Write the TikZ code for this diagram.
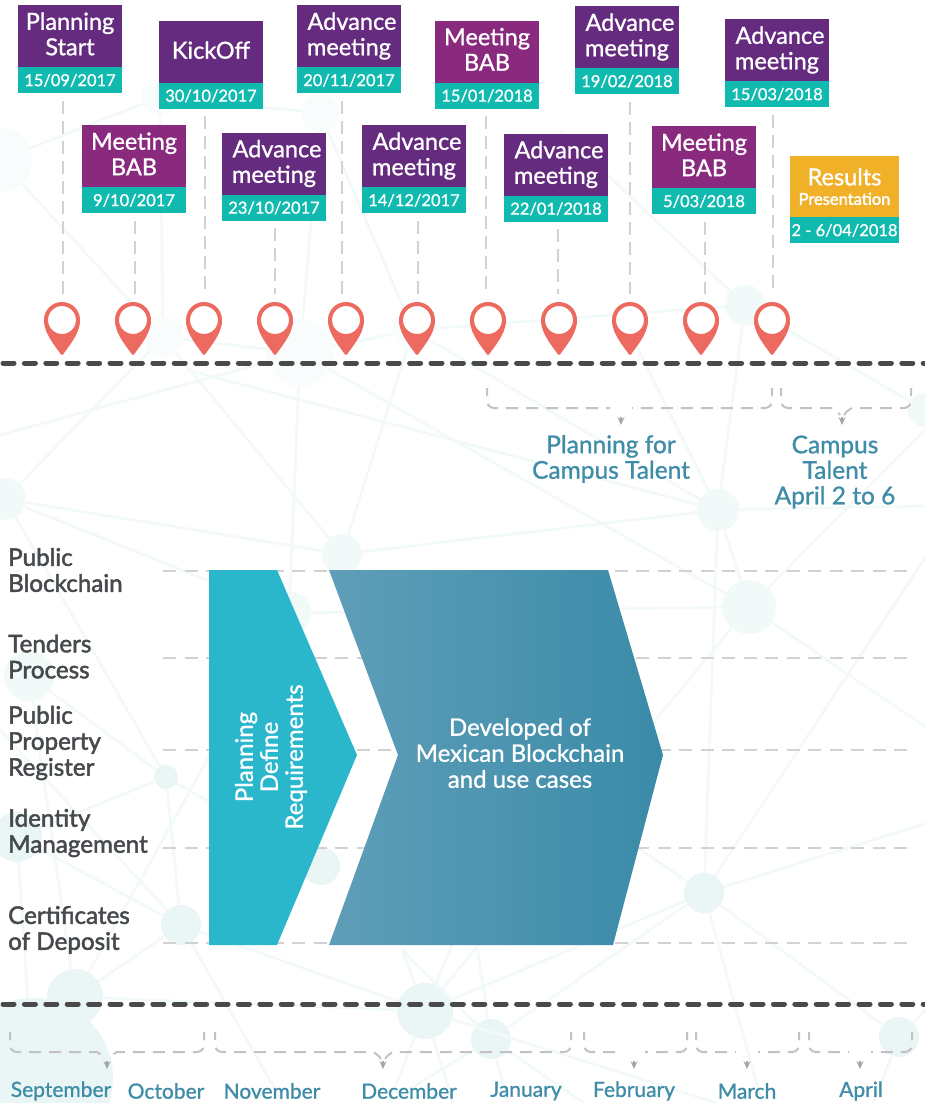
\documentclass[tikz,border=0pt]{standalone}
\usepackage{fontspec}
\setmainfont{Lato}[RawFeature={embolden=1.0}]
\newfontfamily\rowfont{Lato}[RawFeature={embolden=2.0}]
\usetikzlibrary{arrows.meta,positioning}
\definecolor{planpurple}{HTML}{652B7F}
\definecolor{babmagenta}{HTML}{8A2A7E}
\definecolor{dateteal}{HTML}{10BAAF}
\definecolor{resultgold}{HTML}{F0B028}
\definecolor{pinred}{HTML}{EC6A5F}
\definecolor{axisgrey}{HTML}{4A4A4A}
\definecolor{rowgrey}{HTML}{D2D2D2}
\definecolor{bracegrey}{HTML}{C2C2C2}
\definecolor{labelblue}{HTML}{3F8CA8}
\definecolor{labelgrey}{HTML}{474A4D}
\definecolor{netfaint}{HTML}{F8FCFC}
\definecolor{netpale}{HTML}{F2F9F9}
\definecolor{netdeep}{HTML}{EAF5F5}
\tikzset{
    cardtitle/.style={fill=#1,text=white,minimum width=104pt,minimum height=62pt,inner sep=0pt,align=center,font=\fontsize{23.5}{25.5}\selectfont},
    carddate/.style={fill=dateteal,text=white,minimum width=104pt,minimum height=26pt,inner sep=0pt,font=\fontsize{16.5}{18}\selectfont},
    stemline/.style={rowgrey,line width=2.5pt,dash pattern=on 13pt off 7pt},
    pinhead/.style={circle,draw=pinred,fill=white,line width=4pt,minimum size=32pt,inner sep=0pt},
    axisline/.style={axisgrey,line width=5pt,line cap=round,dash pattern=on 11pt off 10.4pt},
    rowline/.style={rowgrey,line width=2.5pt,dash pattern=on 13pt off 8.5pt},
    braceline/.style={bracegrey,line width=2pt,rounded corners=7pt,dash pattern=on 12pt off 8pt,dash phase=4pt},
    bracetip/.style={bracegrey!85!black,line width=1.5pt,-{Stealth[length=8pt,width=7pt,inset=3pt]}},
    rowlabel/.style={labelgrey,anchor=west,align=left,inner sep=0pt,font=\rowfont\fontsize{24.2}{26}\selectfont},
    bluelabel/.style={labelblue,align=center,inner sep=0pt,font=\fontsize{24.5}{25.5}\selectfont},
    monthlabel/.style={labelblue,inner sep=0pt,font=\fontsize{21}{22}\selectfont},
    netdot/.style={circle,fill=#1,inner sep=0pt},
    netlink/.style={netpale,line width=2.5pt}
}
\newcommand{\gapbrace}[5]{
    \draw[braceline] (#1,#4)--(#1,#5)--({#3-11},#5);
    \draw[braceline] (#2,#4)--(#2,#5)--({#3+11},#5);
    \draw[bracetip] (#3,{#5+9})--(#3,{#5+17});
}
\newcommand{\curlbrace}[5]{
    \draw[braceline] (#1,#4)--(#1,#5)--({#3-17},#5) .. controls ({#3-10},#5) and ({#3-4},{#5+3}) .. ({#3-2},{#5+7});
    \draw[braceline] (#2,#4)--(#2,#5)--({#3+17},#5) .. controls ({#3+10},#5) and ({#3+4},{#5+3}) .. ({#3+2},{#5+7});
    \draw[bracetip] (#3,{#5+9})--(#3,{#5+17});
}
\newcommand{\advancetxt}{\hspace*{6pt}Advance\\meeting}
\newcommand{\babtxt}{Meeting\\BAB\vphantom{g}}
\begin{document}
\begin{tikzpicture}[x=1pt,y=-1pt]
    \useasboundingbox (0,0) rectangle (925,1103);
    \fill[white] (0,0) rectangle (925,1103);
    \clip (0,0) rectangle (925,1103);
    \foreach \n/\x/\y/\d/\c in {a/0/160/64/netfaint,b/160/97/36/netfaint,c/320/113/38/netfaint,d/163/337/40/netfaint,
        e/300/353/66/netfaint,f/413/330/40/netfaint,g/745/305/40/netpale,h/925/410/34/netpale,i/5/499/42/netpale,
        j/342/554/40/netpale,k/718/510/42/netpale,l/749/607/54/netpale,m/29/676/50/netpale,n/289/613/44/netpale,
        o/166/777/24/netdeep,p/321/866/38/netdeep,q/704/893/40/netdeep,r/181/925/40/netdeep,s/17/837/50/netdeep,
        t/75/997/56/netdeep,u/425/1011/56/netdeep,v/491/1039/40/netdeep,w/33/1078/160/netdeep,x/899/1037/40/netdeep}
        \node[netdot=\c,minimum size=\d pt] (net\n) at (\x,\y) {};
    \foreach \n/\x/\y in {A/187/370,B/0/435,C/930/506,D/930/730,E/930/822,F/930/550,G/930/425,H/762/1103,I/0/730,J/600/1103,
        K/717/1103,L/584/1103,M/508/1103,N/387/1103,O/389/1103,P/453/1103,Q/283/1103,R/873/1103,S/930/1005,T/653/723,
        U/638/848,V/470/900,W/510/905,X/402/950,Y/637/347,Z/560/130}
        \coordinate (net\n) at (\x,\y);
    \foreach \a/\b in {a/b,a/d,b/c,b/d,c/f,c/e,d/e,e/f,f/g,Z/g,g/h,g/k,Y/k,A/k,f/k,i/d,d/j,e/n,f/j,B/e,e/l,i/j,i/n,i/o,j/k,
        k/l,k/C,k/q,l/D,l/G,l/T,l/n,q/F,q/E,q/U,q/H,q/x,q/u,q/v,m/o,m/t,n/t,s/o,o/r,o/p,s/r,I/r,s/w,r/t,r/Q,r/u,t/u,u/X,X/v,
        u/V,V/v,u/W,v/M,v/L,v/N,u/O,u/P,u/K,x/R,x/S}
        \draw[netlink] (net\a) -- (net\b);
    \foreach \i in {1,...,11} {
        \pgfmathsetmacro{\x}{62+71*(\i-1)}
        \fill[pinred] ({\x-18},322) .. controls ({\x-17},335) and ({\x-6},347) .. ({\x-1},354.5)
            -- ({\x+1},354.5) .. controls ({\x+6},347) and ({\x+17},335) .. ({\x+18},322) -- cycle;
        \node[pinhead] (pin\i) at (\x,320) {};
    }
    \foreach \i/\cx/\cy/\tint/\txt/\dt/\ox in {
        1/70/36/planpurple/{Planning\\Start\vphantom{g}}/15\slash 09\slash 2017/-7,
        2/134/156/babmagenta/\babtxt/9\slash 10\slash 2017/1,
        3/211/51.5/planpurple/{\raisebox{3pt}{KickOff}}/30\slash 10\slash 2017/-6,
        4/274/163.5/planpurple/\advancetxt/23\slash 10\slash 2017/1,
        5/349/36/planpurple/\advancetxt/20\slash 11\slash 2017/-7,
        6/414/156/planpurple/\advancetxt/14\slash 12\slash 2017/4,
        7/487/51.5/babmagenta/\babtxt/15\slash 01\slash 2018/-1,
        8/556/164.5/planpurple/\advancetxt/22\slash 01\slash 2018/2,
        9/627/37/planpurple/\advancetxt/19\slash 02\slash 2018/3,
        10/704/157/babmagenta/\babtxt/5\slash 03\slash 2018/1,
        11/777/50/planpurple/\advancetxt/15\slash 03\slash 2018/-4} {
        \node[cardtitle=\tint] (card\i) at (\cx,\cy) {\txt};
        \node[carddate,below=0pt of card\i] (date\i) {\dt};
        \coordinate (stem\i) at ([xshift=\ox pt,yshift=-7pt]date\i.south);
        \draw[stemline,shorten >=8pt] (stem\i) -- (stem\i |- pin\i.north);
    }
    \node[cardtitle=resultgold,minimum width=109pt,minimum height=61pt] (card12) at (844.5,186.5)
        {Results\\[-6pt]{\rowfont\fontsize{16.5}{18}\selectfont Presentation}};
    \node[carddate,minimum width=109pt,below=0pt of card12] (date12) {2 - 6\slash 04\slash 2018};
    \draw[axisline] (3,363)--(925,363);
    \draw[axisline] (3,1004)--(925,1004);
    \gapbrace{487}{772}{621}{388}{408}
    \curlbrace{781}{911}{842}{388}{408}
    \node[bluelabel] (talentplan) at (611,459) {Planning for\\Campus Talent};
    \node[bluelabel] (talentweek) at (835,472) {Campus\\Talent\\April 2 to 6};
    \foreach \y in {571,658,750,848,943}
        \draw[rowline] (163,\y)--(912,\y);
    \fill[fill={rgb,255:red,42;green,183;blue,204}] (209,570)--(277,570)--(357,755)--(277,945)--(209,945)--cycle;
    \shade[left color={rgb,255:red,95;green,158;blue,184},right color={rgb,255:red,58;green,139;blue,168}]
        (329,570)--(608,570)--(663,755)--(613,945)--(329,945)--(398,755)--cycle;
    \node[white,rotate=90,align=center,inner sep=0pt,font=\fontsize{24}{25}\selectfont] (planblock) at (271,757) {Planning\\Define\\Requirements};
    \node[white,align=center,inner sep=0pt,font=\fontsize{24}{26}\selectfont] (devblock) at (520,753) {Developed of\\Mexican Blockchain\\and use cases};
    \node[rowlabel] (row1) at (8,570) {Public\\Blockchain};
    \node[rowlabel] (row2) at (8,656.5) {Tenders\\Process};
    \node[rowlabel] (row3) at (8,743) {Public\\Property\\Register};
    \node[rowlabel] (row4) at (8,833) {Identity\\Management};
    \node[rowlabel] (row5) at (8,930) {Certificates\\of Deposit};
    \curlbrace{10}{204}{107}{1032}{1052}
    \curlbrace{215}{571}{383}{1032}{1052}
    \gapbrace{584}{687}{634}{1032}{1052}
    \gapbrace{696}{799}{747}{1032}{1052}
    \gapbrace{809}{912}{860}{1032}{1052}
    \foreach \t/\x in {September/61,October/166,November/272,December/409,January/526,February/634,March/747,April/861}
        \node[monthlabel] (m\t) at (\x,1091) {\t};
\end{tikzpicture}
\end{document}
